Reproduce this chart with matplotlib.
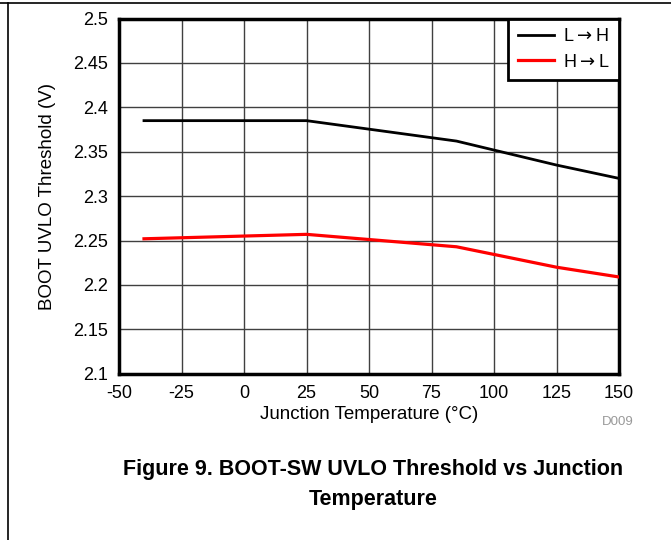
import matplotlib.pyplot as plt
from matplotlib.lines import Line2D

plt.rcParams['font.family'] = ['Liberation Sans', 'DejaVu Sans']
plt.rcParams['axes.unicode_minus'] = False

# Junction temperature (C) and BOOT-SW UVLO threshold (V)
temp_lh = [-40, 25, 85, 125, 150]
uvlo_lh = [2.385, 2.385, 2.362, 2.335, 2.320]

temp_hl = [-40, 25, 85, 125, 150]
uvlo_hl = [2.252, 2.257, 2.243, 2.220, 2.209]

x_ticks = [-50, -25, 0, 25, 50, 75, 100, 125, 150]
y_ticks = [2.1, 2.15, 2.2, 2.25, 2.3, 2.35, 2.4, 2.45, 2.5]
y_labels = ['2.1', '2.15', '2.2', '2.25', '2.3', '2.35', '2.4', '2.45', '2.5']

fig = plt.figure(figsize=(6.71, 5.40), dpi=100)
ax = fig.add_axes([119 / 671, 1 - 373.8 / 540, 500 / 671, 355.3 / 540])

ax.plot(temp_lh, uvlo_lh, color='black', linewidth=2, label=r'L$\rightarrow$H', zorder=3)
ax.plot(temp_hl, uvlo_hl, color='#ff0000', linewidth=2.3, label=r'H$\rightarrow$L', zorder=3)

ax.set_xlim(-50, 150)
ax.set_ylim(2.1, 2.5)
ax.set_xticks(x_ticks)
ax.set_yticks(y_ticks)
ax.set_yticklabels(y_labels)
ax.tick_params(length=0, labelsize=13, pad=8)
ax.grid(True, color='#404040', linewidth=1)
ax.set_axisbelow(True)
for s in ax.spines.values():
    s.set_linewidth(2.5)

ax.set_xlabel('Junction Temperature (\u00b0C)', fontsize=13.5, labelpad=3)
ax.set_ylabel('BOOT UVLO Threshold (V)', fontsize=13.5, labelpad=12)

leg = ax.legend(loc='upper right', fontsize=13, frameon=True, fancybox=False,
                borderaxespad=0, handlelength=1.95, handletextpad=0.5,
                borderpad=0.55, labelspacing=0.45)
leg.get_frame().set_edgecolor('black')
leg.get_frame().set_linewidth(2)
leg.get_frame().set_alpha(1)

fig.text(634 / 671, 1 - 422 / 540, 'D009', fontsize=9.5, color='#999999',
         ha='right', va='center')

fig.text(373 / 671, 1 - 469 / 540, 'Figure 9. BOOT-SW UVLO Threshold vs Junction',
         fontsize=15.5, fontweight='bold', ha='center', va='center')
fig.text(373 / 671, 1 - 500 / 540, 'Temperature',
         fontsize=15.5, fontweight='bold', ha='center', va='center')

# outer frame lines (top and left)
fig.add_artist(Line2D([0, 1], [1 - 3 / 540, 1 - 3 / 540], color='black', linewidth=1.2))
fig.add_artist(Line2D([8 / 671, 8 / 671], [0, 1 - 3 / 540], color='black', linewidth=1.2))

fig.savefig('out.png', dpi=100)
